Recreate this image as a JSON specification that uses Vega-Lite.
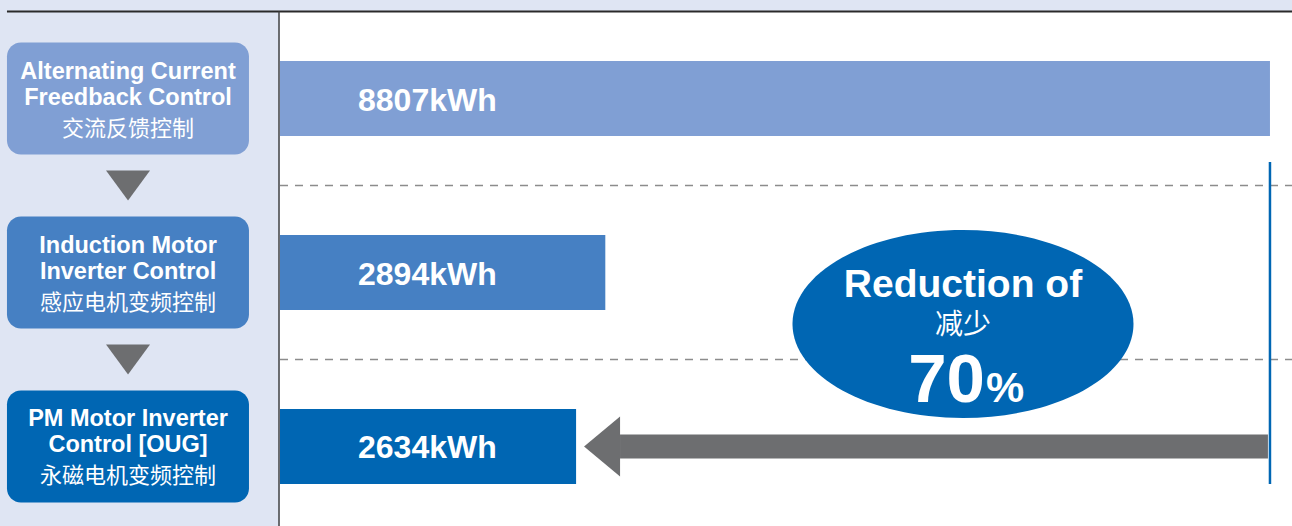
{
  "$schema": "https://vega.github.io/schema/vega-lite/v6.json",
  "width": 1292,
  "height": 526,
  "autosize": {"type": "none"},
  "padding": 0,
  "background": "#dfe5f3",
  "config": {"view": {"stroke": null}, "axis": {"disable": true}, "scale": {"continuousPadding": 0}},
  "datasets": {
    "methods": [
      {"row": 1, "en1": "Alternating Current", "en2": "Freedback Control", "cn": "交流反馈控制", "kWh": 8807},
      {"row": 2, "en1": "Induction Motor", "en2": "Inverter Control", "cn": "感应电机变频控制", "kWh": 2894},
      {"row": 3, "en1": "PM Motor Inverter", "en2": "Control [OUG]", "cn": "永磁电机变频控制", "kWh": 2634}
    ]
  },
  "data": {"name": "methods"},
  "transform": [{"calculate": "datum.kWh + 'kWh'", "as": "label"}],
  "layer": [
    {
      "data": {"values": [{}]},
      "mark": {"type": "rect", "fill": "#ffffff", "opacity": 1},
      "encoding": {
        "x": {"datum": 0, "type": "quantitative", "scale": {"domain": [-2491, 9003], "nice": false, "zero": false}, "axis": null},
        "x2": {"datum": 9003},
        "y": {"datum": 0.5, "type": "quantitative", "scale": {"domain": [0.4339, 3.4569], "reverse": true, "nice": false, "zero": false, "padding": 0}, "axis": null},
        "y2": {"datum": 3.46}
      }
    },
    {
      "data": {"values": [{}]},
      "mark": {"type": "rule", "stroke": "#2a2a2a", "strokeWidth": 2, "opacity": 1},
      "encoding": {
        "x": {"datum": -2429, "type": "quantitative", "scale": {"domain": [-2491, 9003], "nice": false, "zero": false}, "axis": null},
        "x2": {"datum": 9003},
        "y": {"datum": 0.5, "type": "quantitative", "scale": {"domain": [0.4339, 3.4569], "reverse": true, "nice": false, "zero": false, "padding": 0}, "axis": null}
      }
    },
    {
      "data": {"values": [{}]},
      "mark": {"type": "rule", "stroke": "#444444", "strokeWidth": 1.5, "opacity": 1},
      "encoding": {
        "x": {"datum": -9, "type": "quantitative", "scale": {"domain": [-2491, 9003], "nice": false, "zero": false}, "axis": null},
        "y": {"datum": 0.5, "type": "quantitative", "scale": {"domain": [0.4339, 3.4569], "reverse": true, "nice": false, "zero": false, "padding": 0}, "axis": null},
        "y2": {"datum": 3.46}
      }
    },
    {
      "transform": [{"filter": "datum.row < 3"}],
      "mark": {"type": "rule", "stroke": "#8c8c8c", "strokeWidth": 1.5, "strokeDash": [8, 7], "yOffset": 87, "opacity": 1},
      "encoding": {
        "x": {"datum": 0, "type": "quantitative", "scale": {"domain": [-2491, 9003], "nice": false, "zero": false}, "axis": null},
        "x2": {"datum": 9003},
        "y": {"field": "row", "type": "quantitative", "scale": {"domain": [0.4339, 3.4569], "reverse": true, "nice": false, "zero": false, "padding": 0}, "axis": null}
      }
    },
    {
      "mark": {"type": "bar", "orient": "horizontal", "size": 75, "opacity": 1},
      "encoding": {
        "x": {"field": "kWh", "type": "quantitative", "scale": {"domain": [-2491, 9003], "nice": false, "zero": false}, "axis": null},
        "y": {"field": "row", "type": "quantitative", "scale": {"domain": [0.4339, 3.4569], "reverse": true, "nice": false, "zero": false, "padding": 0}, "axis": null},
        "color": {"field": "row", "type": "nominal", "scale": {"domain": [1, 2, 3], "range": ["#809fd4", "#4680c3", "#0066b3"]}, "legend": null}
      }
    },
    {
      "transform": [{"filter": "datum.row == 1"}],
      "mark": {"type": "rule", "stroke": "#0066b3", "strokeWidth": 2.5, "opacity": 1},
      "encoding": {
        "x": {"field": "kWh", "type": "quantitative", "scale": {"domain": [-2491, 9003], "nice": false, "zero": false}, "axis": null},
        "y": {"datum": 1.365, "type": "quantitative", "scale": {"domain": [0.4339, 3.4569], "reverse": true, "nice": false, "zero": false, "padding": 0}, "axis": null},
        "y2": {"datum": 3.2155}
      }
    },
    {
      "transform": [{"filter": "datum.row == 3"}],
      "mark": {"type": "rule", "stroke": "#6d6e70", "strokeWidth": 24, "opacity": 1},
      "encoding": {
        "x": {"datum": 3025, "type": "quantitative", "scale": {"domain": [-2491, 9003], "nice": false, "zero": false}, "axis": null},
        "x2": {"datum": 8789},
        "y": {"field": "row", "type": "quantitative", "scale": {"domain": [0.4339, 3.4569], "reverse": true, "nice": false, "zero": false, "padding": 0}, "axis": null}
      }
    },
    {
      "transform": [{"filter": "datum.row == 3"}],
      "mark": {"type": "point", "filled": true, "fill": "#6d6e70", "strokeWidth": 0, "opacity": 1, "shape": "M-0.6,0L0.6,-1L0.6,1Z", "size": 3600},
      "encoding": {
        "x": {"datum": 2865, "type": "quantitative", "scale": {"domain": [-2491, 9003], "nice": false, "zero": false}, "axis": null},
        "y": {"field": "row", "type": "quantitative", "scale": {"domain": [0.4339, 3.4569], "reverse": true, "nice": false, "zero": false, "padding": 0}, "axis": null}
      }
    },
    {
      "data": {"values": [{"text1": "Reduction of", "text2": "减少", "pct": "70", "sign": "%"}]},
      "layer": [
        {
          "mark": {"type": "point", "filled": true, "fill": "#0066b3", "strokeWidth": 0, "opacity": 1, "shape": "M-1,0A1,0.551,0,1,0,1,0A1,0.551,0,1,0,-1,0Z", "size": 116281}
        },
        {
          "mark": {"type": "text", "color": "#ffffff", "font": "Liberation Sans", "fontWeight": "bold", "fontSize": 39, "dy": -39, "baseline": "middle", "align": "center"},
          "encoding": {"text": {"field": "text1"}}
        },
        {
          "mark": {"type": "text", "color": "#ffffff", "font": "Noto Sans CJK SC", "fontSize": 28, "dy": 2, "baseline": "middle", "align": "center"},
          "encoding": {"text": {"field": "text2"}}
        },
        {
          "mark": {"type": "text", "color": "#ffffff", "font": "Liberation Sans", "fontWeight": "bold", "fontSize": 69, "dy": 57, "dx": 22, "baseline": "middle", "align": "right"},
          "encoding": {"text": {"field": "pct"}}
        },
        {
          "mark": {"type": "text", "color": "#ffffff", "font": "Liberation Sans", "fontWeight": "bold", "fontSize": 43, "dy": 65, "dx": 23, "baseline": "middle", "align": "left"},
          "encoding": {"text": {"field": "sign"}}
        }
      ],
      "encoding": {
        "x": {"datum": 6076, "type": "quantitative", "scale": {"domain": [-2491, 9003], "nice": false, "zero": false}, "axis": null},
        "y": {"datum": 2.296, "type": "quantitative", "scale": {"domain": [0.4339, 3.4569], "reverse": true, "nice": false, "zero": false, "padding": 0}, "axis": null}
      }
    },
    {
      "mark": {"type": "bar", "orient": "horizontal", "size": 112, "cornerRadius": 14, "opacity": 1},
      "encoding": {
        "x": {"datum": -2429, "type": "quantitative", "scale": {"domain": [-2491, 9003], "nice": false, "zero": false}, "axis": null},
        "x2": {"datum": -276},
        "y": {"field": "row", "type": "quantitative", "scale": {"domain": [0.4339, 3.4569], "reverse": true, "nice": false, "zero": false, "padding": 0}, "axis": null},
        "color": {"field": "row", "type": "nominal", "scale": {"domain": [1, 2, 3], "range": ["#809fd4", "#4680c3", "#0066b3"]}, "legend": null}
      }
    },
    {
      "transform": [{"filter": "datum.row < 3"}],
      "mark": {"type": "point", "filled": true, "fill": "#6d6e70", "strokeWidth": 0, "opacity": 1, "shape": "M-1,-0.68L1,-0.68L0,0.68Z", "size": 1936, "yOffset": 87},
      "encoding": {
        "x": {"datum": -1352, "type": "quantitative", "scale": {"domain": [-2491, 9003], "nice": false, "zero": false}, "axis": null},
        "y": {"field": "row", "type": "quantitative", "scale": {"domain": [0.4339, 3.4569], "reverse": true, "nice": false, "zero": false, "padding": 0}, "axis": null}
      }
    },
    {
      "encoding": {
        "x": {"datum": -1352, "type": "quantitative", "scale": {"domain": [-2491, 9003], "nice": false, "zero": false}, "axis": null},
        "y": {"field": "row", "type": "quantitative", "scale": {"domain": [0.4339, 3.4569], "reverse": true, "nice": false, "zero": false, "padding": 0}, "axis": null}
      },
      "layer": [
        {
          "mark": {"type": "text", "color": "#ffffff", "font": "Liberation Sans", "fontWeight": "bold", "fontSize": 23.5, "dy": -27, "baseline": "middle", "align": "center"},
          "encoding": {"text": {"field": "en1"}}
        },
        {
          "mark": {"type": "text", "color": "#ffffff", "font": "Liberation Sans", "fontWeight": "bold", "fontSize": 23.5, "dy": -1, "baseline": "middle", "align": "center"},
          "encoding": {"text": {"field": "en2"}}
        },
        {
          "mark": {"type": "text", "color": "#ffffff", "font": "Noto Sans CJK SC", "fontSize": 22, "dy": 30, "baseline": "middle", "align": "center"},
          "encoding": {"text": {"field": "cn"}}
        }
      ]
    },
    {
      "mark": {"type": "text", "color": "#ffffff", "font": "Liberation Sans", "fontWeight": "bold", "fontSize": 32, "dx": 78, "dy": 2, "baseline": "middle", "align": "left"},
      "encoding": {
        "x": {"datum": 0, "type": "quantitative", "scale": {"domain": [-2491, 9003], "nice": false, "zero": false}, "axis": null},
        "y": {"field": "row", "type": "quantitative", "scale": {"domain": [0.4339, 3.4569], "reverse": true, "nice": false, "zero": false, "padding": 0}, "axis": null},
        "text": {"field": "label"}
      }
    }
  ]
}
